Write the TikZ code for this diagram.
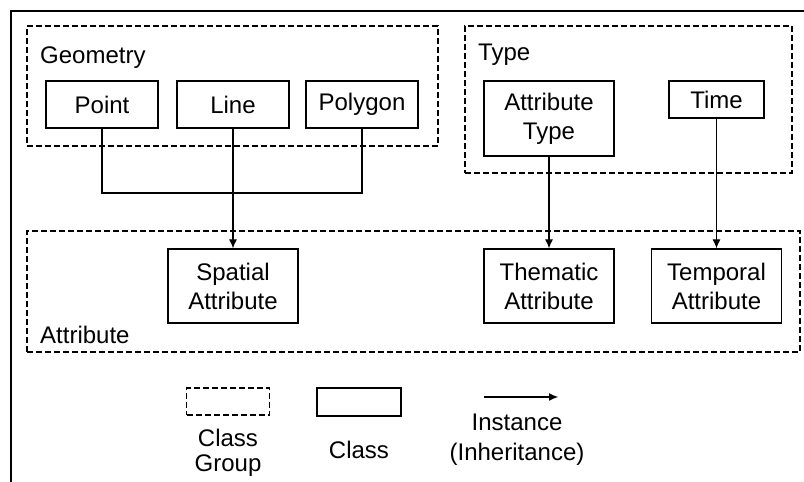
\documentclass[tikz,border=0pt]{standalone}
\usepackage{fontspec}
\setmainfont{Liberation Sans}
\usetikzlibrary{positioning, calc, arrows.meta}

\tikzset{
	cls/.style = {draw, line width = 1.3pt, align = center, inner sep = 0pt},
	grp/.style = {draw, line width = 1.1pt, dash pattern = on 6pt off 3pt, inner sep = 0pt},
	inst/.style = {line width = 1.1pt, -{Latex[length = 9pt, width = 8pt]}},
	grplabel/.style = {anchor = base west, inner sep = 0pt},
	legtext/.style = {align = center, inner sep = 0pt}
}

\begin{document}
\begin{tikzpicture}[x = 1pt, y = -1pt, font = \fontsize{24}{29}\selectfont]
	\useasboundingbox (0,0) rectangle (804,482);
	% frame
	\draw[line width = 2.5pt] (11,482) -- (11,11) -- (804,11);

	% class groups
	\node[grp, minimum width = 411pt, minimum height = 120pt] (geometry) at (232.5,86) {};
	\node[grp, minimum width = 327pt, minimum height = 147pt] (type) at (628.5,99.5) {};
	\node[grp, minimum width = 773pt, minimum height = 121pt] (attribute) at (413.5,291.5) {};
	\node[grplabel] (geometrylabel) at (40,63) {Geometry};
	\node[grplabel] (typelabel) at (478,60) {Type};
	\node[grplabel] (attributelabel) at (40,343) {Attribute};

	% classes
	\node[cls, minimum width = 112pt, minimum height = 47pt] (point) at (102,104.5) {Point};
	\node[cls, minimum width = 112pt, minimum height = 47pt] (line) at (233,104.5) {Line};
	\node[cls, minimum width = 112pt, minimum height = 47pt] (polygon) at (362,104.5) {Polygon};
	\node[cls, minimum width = 130pt, minimum height = 75pt] (attrtype) at (549,118.5) {Attribute\\Type};
	\node[cls, minimum width = 95pt, minimum height = 37pt] (time) at (716.5,99.5) {Time};
	\node[cls, minimum width = 130pt, minimum height = 74pt] (spatial) at (233,286) {Spatial\\Attribute};
	\node[cls, minimum width = 130pt, minimum height = 74pt] (thematic) at (549,286) {Thematic\\Attribute};
	\node[cls, minimum width = 130pt, minimum height = 74pt] (temporal) at (716.5,286) {Temporal\\Attribute};

	% instances
	\coordinate (join) at (233,193);
	\draw[line width = 1.1pt] (point.south) |- (join) -| (polygon.south);
	\draw[inst] (line.south) -- (spatial.north);
	\draw[inst] (attrtype.south) -- (thematic.north);
	\draw[inst] (time.south) -- (temporal.north);

	% legend
	\node[grp, minimum width = 83pt, minimum height = 27pt] (leggrp) at (228,401.5) {};
	\node[cls, minimum width = 84pt, minimum height = 28pt] (legcls) at (359,402) {};
	\coordinate (legstart) at (484,397);
	\coordinate (legend) at (558,397);
	\draw[inst] (legstart) -- (legend);
	\node[legtext, font = \fontsize{24}{25}\selectfont] (leggrptext) at (228,452.5) {Class\\Group};
	\node[legtext] (legclstext) at (359,450) {Class};
	\node[legtext, font = \fontsize{24}{30}\selectfont] (leginsttext) at (517,440) {Instance\\(Inheritance)};
\end{tikzpicture}
\end{document}
